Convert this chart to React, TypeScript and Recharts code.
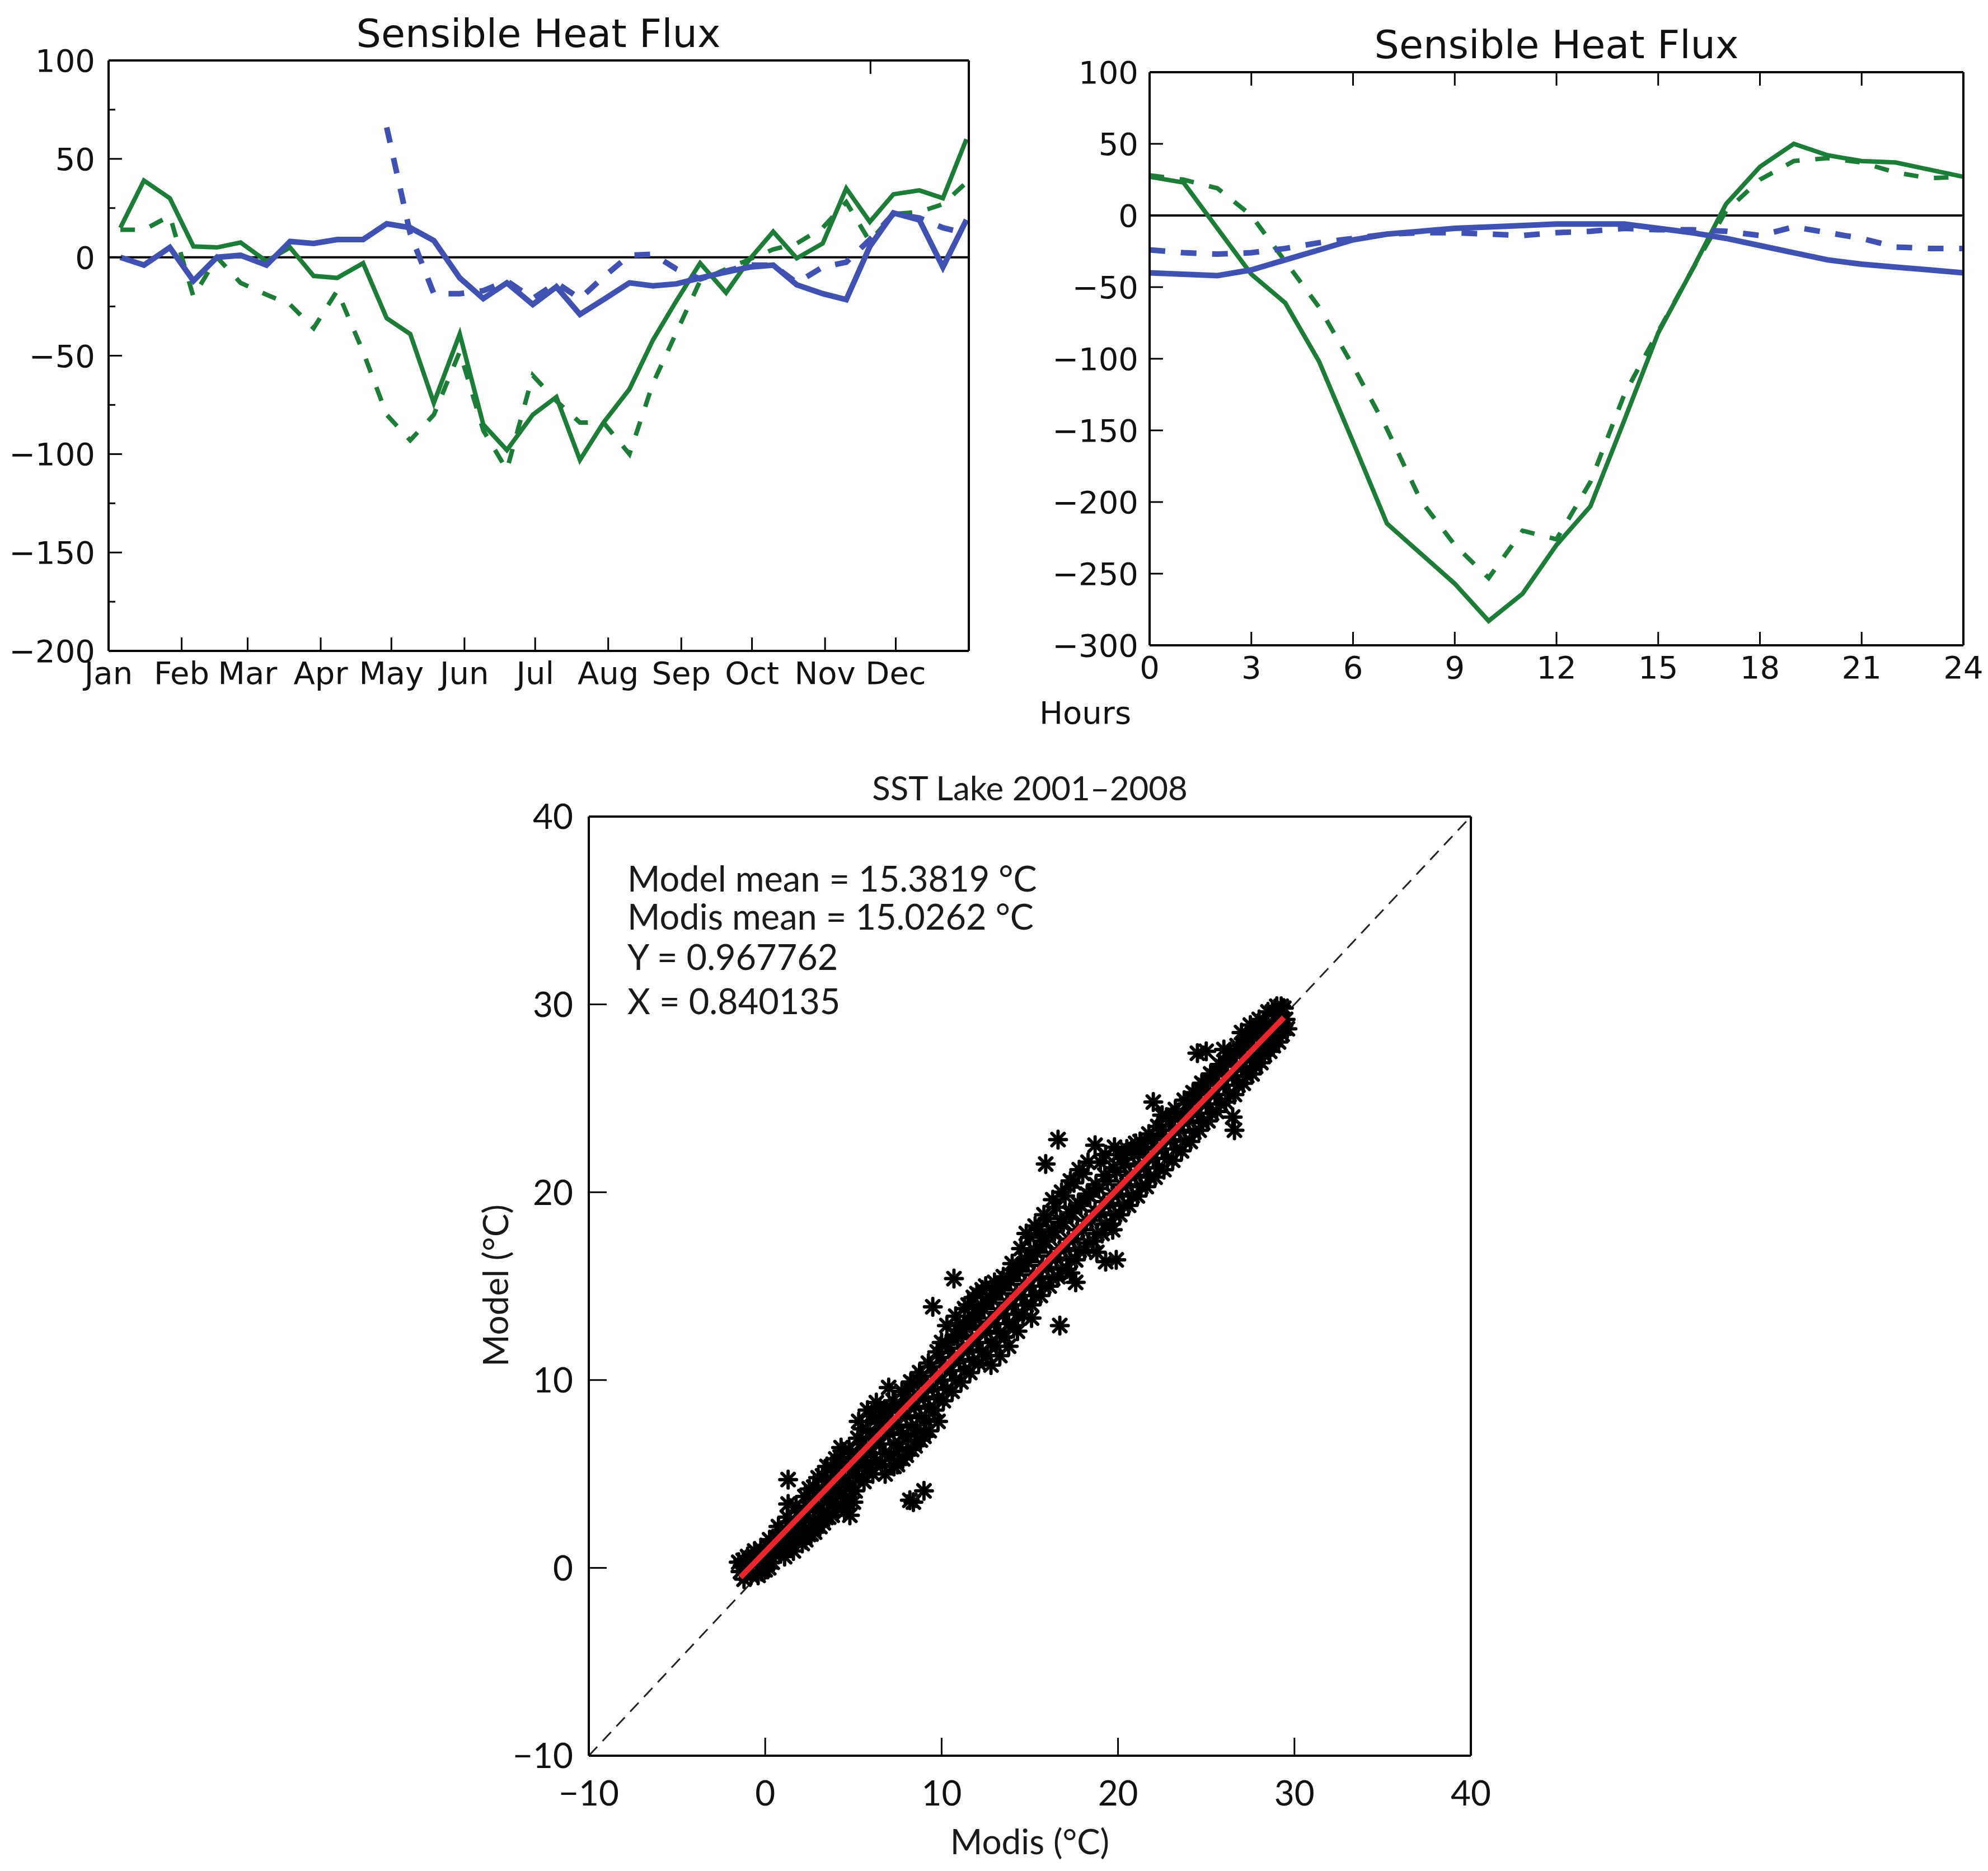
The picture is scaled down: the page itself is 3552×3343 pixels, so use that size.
import React from 'react';
import { LineChart, Line, XAxis, YAxis, ReferenceLine, ScatterChart, Scatter } from 'recharts';

const GREEN = '#1b7d36';
const BLUE = '#3f51b1';
const RED = '#e8262b';
const TOP_FONT = '"DejaVu Sans", sans-serif';
const SST_FONT = 'Lato, sans-serif';

// --- annual cycle panel (day of year, W/m2) ---
const sampleDays = [5, 15, 26, 36, 46, 56, 67, 77, 87, 97, 108, 118, 128, 138, 149, 159, 169, 180, 190, 200, 210, 221, 231, 241, 251, 262, 272, 282, 292, 303, 313, 323, 333, 344, 354, 364];
const greenSolidYear = [15, 39, 30, 5.5, 5, 7.5, -2, 5, -9.5, -10.5, -3, -31, -39, -74, -39, -85, -98, -80, -71, -103, -84, -67, -42, -22, -3, -18, -1, 13, -0.5, 7, 35, 18, 32, 34, 30, 60];
const greenDashedYear = [14, 14, 21, -20, 0, -13, -19, -24, -36, -17, -48, -80, -93, -80, -48, -88, -108, -60, -73, -84, -84, -100, -64, -38, -12, -6, -1, 4, 7, 15, 28, 8, 22, 23, 27, 38];
const blueSolidYear = [0, -4, 5, -12, 0, 1, -4, 8, 7, 9, 9, 17, 15, 8.5, -10.5, -21, -13, -24, -15, -29, -21.5, -13, -14.5, -13.5, -10.5, -7.5, -5, -4, -14, -18.5, -21.5, 5.5, 22.5, 19, -5, 19];
const blueDashedYear = [null, null, null, null, null, null, null, null, null, null, null, 66, 12, -18.5, -18.5, -17, -12, -21, -13, -21, -10, 1, 1.5, -6, -11, -7, -4, -4, -13, -5, -2.5, 9, 22, 20, 15, 12];

const monthStarts = [0, 31, 59, 90, 120, 151, 181, 212, 243, 273, 304, 334];
const monthNames = ['Jan', 'Feb', 'Mar', 'Apr', 'May', 'Jun', 'Jul', 'Aug', 'Sep', 'Oct', 'Nov', 'Dec'];
const yearFluxTicks = [-200, -175, -150, -125, -100, -75, -50, -25, 0, 25, 50, 75, 100];

// --- diurnal cycle panel (hour, W/m2) ---
const hours = [0, 1, 2, 3, 4, 5, 6, 7, 8, 9, 10, 11, 12, 13, 14, 15, 16, 17, 18, 19, 20, 21, 22, 23, 24];
const greenSolidDay = [27, 23, -9, -41, -61, -102, -158, -215, -236, -257, -283, -264, -230, -203, -143, -82, -38, 8, 34, 50, 42, 38, 37, 32, 27];
const greenDashedDay = [28, 25, 19, 0, -32, -64, -105, -149, -199, -230, -253, -220, -226, -186, -125, -81, -38, 3, 25, 38, 40, 37, 30, 26, 27];
const blueSolidDay = [-40, -41, -42, -38, -31, -24, -17, -13, -11, -9, -8, -7, -6, -6, -6, -9, -12, -16, -21, -26, -31, -34, -36, -38, -40];
const blueDashedDay = [-24, -26, -27, -26, -23, -19, -16, -13, -12, -12, -13, -14, -12, -11, -9, -10, -10, -11, -14, -8, -12, -16, -22, -23, -23];

const hourTicks = [0, 3, 6, 9, 12, 15, 18, 21, 24];
const dayFluxTicks = [-300, -250, -200, -150, -100, -50, 0, 50, 100];

// --- SST scatter (Modis, Model) in °C ---
const sstPoints: [number, number][] = [
  [-1.5, 0.3], [-1.4, -0.2], [-1.0, 0.6], [-1.1, -0.3], [-0.9, 0.1], [-0.5, 0.2], [-0.6, 0.9], [-0.4, -0.4],
  [0.0, 0.5], [0.1, 1.2], [0.0, -0.1], [0.5, 1.0], [0.4, 0.3], [0.6, 1.6],
  [1.0, 1.2], [1.1, 0.6], [0.9, 2.0], [1.0, 1.7], [1.5, 1.6], [1.4, 2.4], [1.6, 0.9], [1.3, 3.4], [1.3, 4.7],
  [2.0, 2.2], [2.1, 1.3], [1.9, 3.0], [2.5, 2.6], [2.4, 3.5], [2.6, 1.8], [2.5, 4.2],
  [3.0, 3.1], [3.1, 2.2], [2.9, 4.0], [3.0, 4.8], [3.5, 3.7], [3.4, 4.6], [3.6, 2.7], [3.5, 5.4],
  [4.0, 4.1], [4.1, 3.2], [3.9, 5.1], [4.0, 5.8], [4.5, 4.6], [4.6, 3.5], [4.4, 5.5], [4.5, 3.0],
  [5.0, 5.2], [5.1, 4.1], [4.9, 6.1], [5.0, 3.5], [5.5, 5.6], [5.6, 4.6], [5.4, 6.6], [5.5, 7.4],
  [6.0, 6.1], [6.1, 5.0], [5.9, 7.2], [6.0, 8.1], [6.5, 6.6], [6.6, 5.5], [6.4, 7.7], [6.5, 8.5],
  [7.0, 7.2], [7.1, 6.0], [6.9, 8.3], [7.0, 9.6], [7.5, 7.6], [7.6, 6.4], [7.4, 8.7], [7.5, 5.5],
  [8.0, 8.1], [8.1, 7.0], [7.9, 9.2], [8.0, 6.0], [8.2, 3.6], [8.4, 3.5], [9.0, 4.1],
  [8.5, 8.6], [8.6, 7.4], [8.4, 9.8], [8.5, 6.5], [9.0, 9.1], [9.1, 7.9], [8.9, 10.2], [9.0, 7.0],
  [9.5, 9.6], [9.6, 8.4], [9.4, 10.7], [9.5, 13.9], [10.0, 10.0], [10.1, 8.9], [9.9, 11.2], [10.0, 12.0],
  [10.5, 10.5], [10.6, 9.4], [10.4, 11.7], [10.7, 15.4], [11.0, 11.1], [11.1, 9.9], [10.9, 12.3], [11.0, 13.0],
  [11.5, 11.6], [11.6, 10.4], [11.4, 12.8], [11.5, 14.0], [12.0, 12.0], [12.1, 10.9], [11.9, 13.3], [12.0, 14.6],
  [12.5, 12.6], [12.6, 11.3], [12.4, 13.8], [12.5, 15.0], [13.0, 13.0], [13.1, 11.8], [12.9, 14.3], [13.0, 15.2],
  [13.5, 13.5], [13.6, 12.3], [13.4, 14.8], [13.5, 15.5], [14.0, 14.0], [14.1, 12.9], [13.9, 15.3], [14.0, 16.2],
  [14.5, 14.5], [14.6, 13.5], [14.4, 15.8], [14.5, 17.0], [15.0, 15.0], [15.1, 14.0], [14.9, 16.3], [15.1, 13.3], [15.0, 17.6],
  [15.5, 15.5], [15.6, 14.5], [15.4, 16.8], [15.5, 18.0], [16.0, 16.0], [16.1, 15.0], [15.9, 17.4], [16.0, 18.6], [15.9, 21.5],
  [16.5, 16.5], [16.6, 15.5], [16.4, 17.9], [16.5, 19.2], [16.6, 22.8], [16.7, 12.9],
  [17.0, 17.0], [17.1, 15.9], [16.9, 18.4], [17.0, 19.8], [17.3, 15.7], [17.5, 17.5], [17.6, 16.4], [17.4, 18.9], [17.5, 20.5], [17.6, 15.2],
  [18.0, 18.0], [18.1, 16.9], [17.9, 19.3], [18.0, 21.0], [18.5, 18.5], [18.6, 17.4], [18.4, 19.8], [18.7, 22.5],
  [19.0, 18.9], [19.1, 17.8], [18.9, 20.2], [19.0, 21.6], [19.3, 16.3], [19.5, 19.4], [19.6, 18.3], [19.4, 20.6], [19.9, 16.4], [19.7, 18.0],
  [20.0, 19.9], [20.1, 18.8], [19.9, 21.1], [20.0, 22.0], [20.5, 20.4], [20.6, 19.3], [20.4, 21.5], [20.5, 22.3],
  [21.0, 20.9], [21.1, 19.8], [20.9, 22.0], [21.0, 22.6], [21.5, 21.3], [21.6, 20.3], [21.4, 22.3],
  [22.0, 21.8], [22.1, 20.8], [21.9, 22.8], [22.0, 24.8], [22.5, 22.3], [22.6, 21.2], [22.4, 23.3], [22.5, 24.1],
  [23.0, 22.8], [23.1, 21.7], [22.9, 23.8], [23.5, 23.3], [23.6, 22.2], [23.4, 24.2],
  [24.0, 23.8], [24.1, 22.7], [23.9, 24.7], [24.5, 24.2], [24.6, 23.3], [24.4, 25.2], [24.5, 27.4],
  [25.0, 24.7], [25.1, 23.8], [24.9, 25.7], [25.0, 27.5], [25.5, 25.2], [25.6, 24.3], [25.4, 26.2],
  [26.0, 25.7], [26.1, 24.8], [25.9, 26.7], [26.0, 27.6], [26.5, 26.2], [26.6, 25.2], [26.4, 27.2], [26.6, 23.3], [26.5, 24.0],
  [27.0, 26.6], [27.1, 25.8], [26.9, 27.6], [27.0, 28.5], [27.5, 27.1], [27.6, 26.3], [27.4, 28.1], [27.5, 28.9],
  [28.0, 27.6], [28.1, 26.9], [27.9, 28.5], [28.0, 29.2], [28.5, 28.1], [28.6, 27.5], [28.4, 28.9], [28.5, 29.6],
  [29.0, 28.6], [29.1, 28.0], [28.9, 29.4], [29.0, 29.9], [29.5, 29.2], [29.4, 29.8], [29.6, 28.7],
  // in-between samples that fill the band
  [-1.25, 0.4], [-1.2, -0.6], [-0.75, 0.5], [-0.8, -0.4], [-0.25, 1.0], [-0.2, -0.2], [-0.3, 0.4],
  [0.25, 1.5], [0.3, 0.6], [0.2, 0.0], [0.75, 2.2], [0.8, 0.9], [0.7, 1.4], [1.25, 2.7], [1.3, 1.2], [1.2, 2.0],
  [1.75, 3.3], [1.8, 1.6], [1.7, 2.5], [2.25, 3.8], [2.3, 2.1], [2.2, 3.0], [2.3, 1.5],
  [2.75, 4.3], [2.8, 2.5], [2.7, 3.4], [2.8, 1.9], [3.25, 4.9], [3.3, 3.0], [3.2, 3.9], [3.3, 2.4],
  [3.75, 5.4], [3.8, 3.4], [3.7, 4.4], [3.8, 2.8], [4.25, 5.9], [4.3, 3.9], [4.2, 4.9], [4.3, 6.4],
  [4.75, 6.3], [4.8, 4.3], [4.7, 5.4], [4.8, 2.8], [5.25, 6.9], [5.3, 4.8], [5.2, 5.9], [5.3, 7.8],
  [5.75, 7.4], [5.8, 5.3], [5.7, 6.4], [5.8, 8.4], [6.25, 7.9], [6.3, 5.7], [6.2, 6.9], [6.3, 8.8],
  [6.75, 8.4], [6.8, 6.1], [6.7, 7.3], [6.8, 5.0], [7.25, 8.9], [7.3, 6.6], [7.2, 7.8], [7.3, 5.4],
  [7.75, 9.4], [7.8, 7.1], [7.7, 8.3], [7.8, 5.8], [8.25, 9.9], [8.3, 7.5], [8.2, 8.8], [8.3, 6.3],
  [8.75, 10.4], [8.8, 8.0], [8.7, 9.2], [8.8, 6.8], [9.25, 10.9], [9.3, 8.5], [9.2, 9.7], [9.3, 7.3],
  [9.75, 11.5], [9.8, 9.0], [9.7, 10.2], [9.8, 7.8], [10.25, 11.9], [10.3, 9.5], [10.2, 10.7], [10.3, 12.9],
  [10.75, 12.4], [10.8, 10.0], [10.7, 11.2], [10.8, 13.4], [11.25, 12.9], [11.3, 10.5], [11.2, 11.7], [11.3, 13.8],
  [11.75, 13.4], [11.8, 11.0], [11.7, 12.2], [11.8, 14.4], [12.25, 13.9], [12.3, 11.5], [12.2, 12.7], [12.3, 14.8],
  [12.75, 14.4], [12.8, 12.0], [12.7, 13.1], [12.8, 10.8], [13.25, 14.9], [13.3, 12.5], [13.2, 13.6], [13.3, 11.3],
  [13.75, 15.4], [13.8, 13.0], [13.7, 14.1], [13.8, 11.8], [14.25, 15.9], [14.3, 13.5], [14.2, 14.6], [14.3, 12.6],
  [14.75, 16.4], [14.8, 14.0], [14.7, 15.1], [14.8, 17.8], [15.25, 16.9], [15.3, 14.5], [15.2, 15.6], [15.3, 18.2],
  [15.75, 17.4], [15.8, 15.0], [15.7, 16.1], [15.8, 18.8], [16.25, 17.9], [16.3, 15.4], [16.2, 16.6], [16.3, 19.6],
  [16.75, 18.4], [16.8, 15.9], [16.7, 17.0], [16.8, 20.0], [17.25, 18.9], [17.3, 16.4], [17.2, 17.5], [17.3, 20.6],
  [17.75, 19.4], [17.8, 16.9], [17.7, 18.0], [17.8, 21.2], [18.25, 19.9], [18.3, 17.3], [18.2, 18.5], [18.3, 21.6],
  [18.75, 20.4], [18.8, 17.8], [18.7, 19.0], [18.8, 16.8], [19.25, 20.9], [19.3, 18.3], [19.2, 19.5], [19.3, 22.0],
  [19.75, 21.3], [19.8, 18.8], [19.7, 19.9], [19.8, 22.4], [20.25, 21.8], [20.3, 19.3], [20.2, 20.4],
  [20.75, 22.2], [20.8, 19.8], [20.7, 20.9], [21.25, 22.7], [21.3, 20.3], [21.2, 21.4],
  [21.75, 23.1], [21.8, 20.8], [21.7, 21.9], [22.25, 23.5], [22.3, 21.3], [22.2, 22.4],
  [22.75, 24.0], [22.8, 21.8], [22.7, 22.9], [23.25, 24.4], [23.3, 22.3], [23.2, 23.3],
  [23.75, 24.9], [23.8, 22.7], [23.7, 23.8], [24.25, 25.3], [24.3, 23.2], [24.2, 24.3],
  [24.75, 25.8], [24.8, 23.7], [24.7, 24.8], [25.25, 26.3], [25.3, 24.2], [25.2, 25.3],
  [25.75, 26.8], [25.8, 24.7], [25.7, 25.8], [26.25, 27.2], [26.3, 25.2], [26.2, 26.2],
  [26.75, 27.8], [26.8, 25.7], [26.7, 26.7], [27.25, 28.2], [27.3, 26.2], [27.2, 27.2],
  [27.75, 28.7], [27.8, 26.7], [27.7, 27.7], [28.25, 29.1], [28.3, 27.3], [28.2, 28.2],
  [28.75, 29.6], [28.8, 27.8], [28.7, 28.7], [29.25, 29.9], [29.3, 28.4], [29.2, 29.1],
];
const sstTicks = [-10, 0, 10, 20, 30, 40];
const oneToOne = [{ modis: -10, model: -10 }, { modis: 40, model: 40 }];
const fitLine = [{ modis: -1.4, model: -0.5 }, { modis: 29.4, model: 29.3 }];
const statLines = ['Model mean = 15.3819 °C', 'Modis mean = 15.0262 °C', 'Y = 0.967762', 'X = 0.840135'];

const yearRows = sampleDays.map((day, i) => ({
  day,
  greenSolid: greenSolidYear[i],
  greenDashed: greenDashedYear[i],
  blueSolid: blueSolidYear[i],
  blueDashed: blueDashedYear[i],
}));

const dayRows = hours.map((hour, i) => ({
  hour,
  greenSolid: greenSolidDay[i],
  greenDashed: greenDashedDay[i],
  blueSolid: blueSolidDay[i],
  blueDashed: blueDashedDay[i],
}));

const sstRows = sstPoints.map(([modis, model]) => ({ modis, model }));

const fmt = (v: number) => (v < 0 ? `\u2212${-v}` : `${v}`);

const frame = { stroke: '#000', strokeWidth: 4 };

// tick painters: tickSize and tickMargin are 0, so x/y sit on the axis line
const bottomTick = (labelOf: (v: number) => string, len: number, dy: number, font: string, size: number) =>
  (p: any) => (
    <g>
      <line x1={p.x} y1={p.y} x2={p.x} y2={p.y - len} stroke="#000" strokeWidth={3} />
      <text x={p.x} y={p.y + dy} textAnchor="middle" fontSize={size} fontFamily={font} fill="#111">
        {labelOf(p.payload.value)}
      </text>
    </g>
  );

const leftTick = (major: (v: number) => boolean, dx: number, font: string, size: number, lenMajor: number, lenMinor: number) =>
  (p: any) => {
    const v = p.payload.value;
    const isMajor = major(v);
    return (
      <g>
        <line x1={p.x} y1={p.y} x2={p.x + (isMajor ? lenMajor : lenMinor)} y2={p.y} stroke="#000" strokeWidth={3} />
        {isMajor && (
          <text x={p.x - dx} y={p.y + size * 0.36} textAnchor="end" fontSize={size} fontFamily={font} fill="#111">
            {fmt(v)}
          </text>
        )}
      </g>
    );
  };

const topTick = (len: number) => (p: any) => (
  <line x1={p.x} y1={p.y} x2={p.x} y2={p.y + len} stroke="#000" strokeWidth={3} />
);

const rightTick = (major: (v: number) => boolean, lenMajor: number, lenMinor: number) => (p: any) => (
  <line
    x1={p.x}
    y1={p.y}
    x2={p.x - (major(p.payload.value) ? lenMajor : lenMinor)}
    y2={p.y}
    stroke="#000"
    strokeWidth={3}
  />
);

const Asterisk = (props: any) => {
  const { cx, cy } = props;
  if (cx == null || cy == null) return <g />;
  const r = 15;
  const d = 11;
  return (
    <g stroke="#000" strokeWidth={6} strokeLinecap="round">
      <line x1={cx - r} y1={cy} x2={cx + r} y2={cy} />
      <line x1={cx} y1={cy - r} x2={cx} y2={cy + r} />
      <line x1={cx - d} y1={cy - d} x2={cx + d} y2={cy + d} />
      <line x1={cx - d} y1={cy + d} x2={cx + d} y2={cy - d} />
    </g>
  );
};

const NoShape = () => <g />;

function FluxLines() {
  return [
    <Line key="gs" xAxisId="b" yAxisId="l" dataKey="greenSolid" stroke={GREEN} strokeWidth={8} dot={false} activeDot={false} isAnimationActive={false} />,
    <Line key="gd" xAxisId="b" yAxisId="l" dataKey="greenDashed" stroke={GREEN} strokeWidth={8} strokeDasharray="26 28" dot={false} activeDot={false} isAnimationActive={false} />,
    <Line key="bs" xAxisId="b" yAxisId="l" dataKey="blueSolid" stroke={BLUE} strokeWidth={10} dot={false} activeDot={false} isAnimationActive={false} />,
    <Line key="bd" xAxisId="b" yAxisId="l" dataKey="blueDashed" stroke={BLUE} strokeWidth={10} strokeDasharray="28 28" dot={false} activeDot={false} connectNulls={false} isAnimationActive={false} />,
  ];
}

function AnnualChart() {
  const monthLabel = (v: number) => monthNames[monthStarts.indexOf(v)] ?? '';
  const isMajor = (v: number) => v % 50 === 0;
  return (
    <LineChart width={1800} height={1300} data={yearRows} margin={{ top: 107, right: 68, bottom: 77, left: 94 }}>
      <XAxis xAxisId="b" dataKey="day" type="number" domain={[0, 365]} ticks={monthStarts} interval={0}
        axisLine={frame} tickLine={false} tickSize={0} tickMargin={0} height={60}
        tick={bottomTick(monthLabel, 24, 59, TOP_FONT, 56)} />
      <XAxis xAxisId="t" orientation="top" type="number" domain={[0, 365]} ticks={monthStarts} interval={0}
        axisLine={frame} tickLine={false} tickSize={0} tickMargin={0} height={1} tick={topTick(24)} />
      <YAxis yAxisId="l" type="number" domain={[-200, 100]} ticks={yearFluxTicks} interval={0}
        axisLine={frame} tickLine={false} tickSize={0} tickMargin={0} width={100}
        tick={leftTick(isMajor, 24, TOP_FONT, 56, 24, 12)} />
      <YAxis yAxisId="r" orientation="right" type="number" domain={[-200, 100]} ticks={yearFluxTicks} interval={0}
        axisLine={frame} tickLine={false} tickSize={0} tickMargin={0} width={1} tick={rightTick(isMajor, 24, 12)} />
      <ReferenceLine xAxisId="b" yAxisId="l" y={0} stroke="#000" strokeWidth={4} />
      {FluxLines()}
    </LineChart>
  );
}

function DiurnalChart() {
  const all = () => true;
  return (
    <LineChart width={1752} height={1300} data={dayRows} margin={{ top: 128, right: 43, bottom: 87, left: 154 }}>
      <XAxis xAxisId="b" dataKey="hour" type="number" domain={[0, 24]} ticks={hourTicks} interval={0}
        axisLine={frame} tickLine={false} tickSize={0} tickMargin={0} height={60}
        tick={bottomTick((v) => `${v}`, 24, 59, TOP_FONT, 56)} />
      <XAxis xAxisId="t" orientation="top" type="number" domain={[0, 24]} ticks={hourTicks} interval={0}
        axisLine={frame} tickLine={false} tickSize={0} tickMargin={0} height={1} tick={topTick(24)} />
      <YAxis yAxisId="l" type="number" domain={[-300, 100]} ticks={dayFluxTicks} interval={0}
        axisLine={frame} tickLine={false} tickSize={0} tickMargin={0} width={100}
        tick={leftTick(all, 20, TOP_FONT, 56, 24, 24)} />
      <YAxis yAxisId="r" orientation="right" type="number" domain={[-300, 100]} ticks={dayFluxTicks} interval={0}
        axisLine={frame} tickLine={false} tickSize={0} tickMargin={0} width={1} tick={rightTick(all, 24, 24)} />
      <ReferenceLine xAxisId="b" yAxisId="l" y={0} stroke="#000" strokeWidth={4} />
      {FluxLines()}
    </LineChart>
  );
}

function SstScatter() {
  const all = () => true;
  return (
    <ScatterChart width={1950} height={2043} margin={{ top: 158, right: 121, bottom: 106, left: 152 }}>
      <XAxis xAxisId="b" dataKey="modis" type="number" domain={[-10, 40]} ticks={sstTicks} interval={0}
        axisLine={frame} tickLine={false} tickSize={0} tickMargin={0} height={100}
        tick={bottomTick(fmt, 32, 89, SST_FONT, 62)} />
      <XAxis xAxisId="t" orientation="top" type="number" domain={[-10, 40]} ticks={sstTicks}
        axisLine={frame} tickLine={false} tick={false} height={1} />
      <YAxis yAxisId="l" dataKey="model" type="number" domain={[-10, 40]} ticks={sstTicks} interval={0}
        axisLine={frame} tickLine={false} tickSize={0} tickMargin={0} width={100}
        tick={leftTick(all, 28, SST_FONT, 62, 32, 32)} />
      <YAxis yAxisId="r" orientation="right" type="number" domain={[-10, 40]} ticks={sstTicks}
        axisLine={frame} tickLine={false} tick={false} width={1} />
      <Scatter xAxisId="b" yAxisId="l" data={oneToOne} line={{ stroke: '#222', strokeWidth: 3, strokeDasharray: '22 14' }}
        shape={NoShape} isAnimationActive={false} />
      <Scatter xAxisId="b" yAxisId="l" data={sstRows} shape={Asterisk} isAnimationActive={false} />
      <Scatter xAxisId="b" yAxisId="l" data={fitLine} line={{ stroke: RED, strokeWidth: 10 }}
        shape={NoShape} isAnimationActive={false} />
    </ScatterChart>
  );
}

export default function App() {
  return (
    <div style={{ position: 'absolute', left: 0, top: 0, width: 3552, height: 3343, background: '#fff', overflow: 'hidden' }}>
      <div style={{ position: 'absolute', left: 0, top: 0 }}>
        <AnnualChart />
      </div>
      <div style={{ position: 'absolute', left: 1800, top: 0 }}>
        <DiurnalChart />
      </div>
      <div style={{ position: 'absolute', left: 800, top: 1300 }}>
        <SstScatter />
      </div>
      <svg width={3552} height={3343} style={{ position: 'absolute', left: 0, top: 0, pointerEvents: 'none' }}>
        <g fontFamily={TOP_FONT} fill="#111">
          <text x={962} y={84} fontSize={70} textAnchor="middle">Sensible Heat Flux</text>
          <text x={2781} y={104} fontSize={70} textAnchor="middle">Sensible Heat Flux</text>
          <text x={1857} y={1293} fontSize={56}>Hours</text>
        </g>
        <g fontFamily={SST_FONT} fill="#1a1a1a">
          <text x={1840} y={1430} fontSize={60} textAnchor="middle">SST Lake 2001–2008</text>
          {statLines.map((s, i) => (
            <text key={s} x={1121} y={[1593, 1661, 1733, 1812][i]} fontSize={63}>{s}</text>
          ))}
          <text x={1840} y={3313} fontSize={62} textAnchor="middle">Modis (°C)</text>
          <text x={884} y={2297} fontSize={62} textAnchor="middle" dominantBaseline="central"
            transform="rotate(-90 884 2297)">Model (°C)</text>
        </g>
      </svg>
    </div>
  );
}
